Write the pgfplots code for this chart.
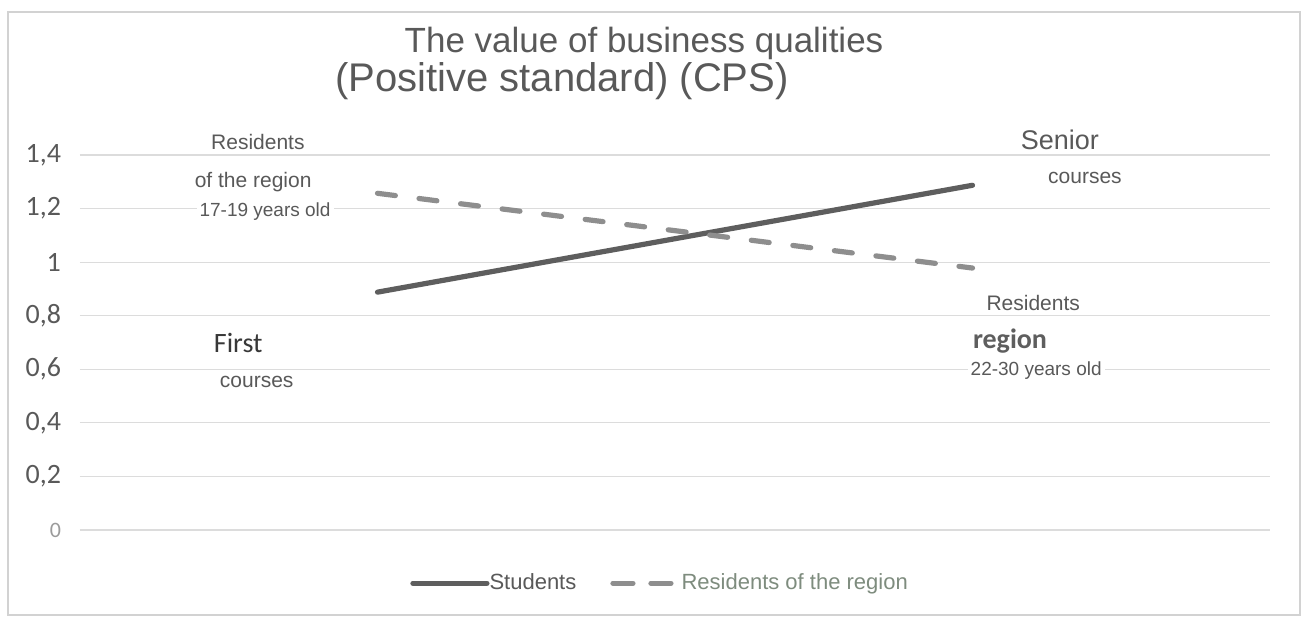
\documentclass[border=0pt]{standalone}
\usepackage{fontspec}
\setmainfont{Liberation Sans}
\newfontfamily\calib{Carlito}
\usepackage{pgfplots}
\pgfplotsset{compat=1.18}
\definecolor{darkline}{HTML}{5E5E5E}
\definecolor{lightline}{HTML}{8E8E8E}
\definecolor{txt}{HTML}{595959}
\definecolor{gridc}{HTML}{DCDCDC}
\definecolor{legg}{HTML}{7E8C7E}
\begin{document}
\begin{tikzpicture}
\useasboundingbox (-40pt,-46pt) rectangle (614.5pt,265pt);
\draw[gray!35, line width=0.6pt] (-36pt,-42.5pt) rectangle (610pt,259pt);
\begin{axis}[
  at={(0,0)}, anchor=south west,
  scale only axis, width=595pt, height=187.5pt,
  xmin=0.5, xmax=2.5, ymin=0, ymax=1.4,
  clip=false,
  axis line style={draw=none},
  ymajorgrids=true,
  grid style={gridc, line width=0.6pt},
  xtick=\empty,
  ytick={0,0.2,0.4,0.6,0.8,1,1.2,1.4},
  yticklabels={{\color{txt!60}\fontsize{11}{12}\selectfont 0\hspace{5pt}},{0,2},{0,4},{0,6},{0,8},{1},{1,2},{1,4}},
  yticklabel style={font=\calib\fontsize{14}{16}\selectfont, text=txt, anchor=east, xshift=-6pt},
  major tick length=0pt,
  legend style={at={(axis description cs:0.4866,-0.142)}, anchor=center, draw=none,
    font=\fontsize{11}{13}\selectfont, text=txt,
    nodes={inner xsep=0pt},
    /tikz/every even column/.append style={column sep=17pt}},
  legend columns=2,
]
\addplot[darkline, line width=2.6pt, line cap=round,
  legend image code/.code={\draw[darkline, line width=2.6pt, line cap=round] (0pt,0pt) -- (37pt,0pt);}] coordinates {(1,0.888) (2,1.287)};
\addlegendentry{Students}
\addplot[lightline, line width=2.6pt, line cap=round, dash pattern=on 9pt off 11.93pt,
  legend image code/.code={\draw[lightline, line width=2.6pt, line cap=round, dash pattern=on 10pt off 9pt] (0pt,0pt) -- (29pt,0pt);}] coordinates {(1,1.257) (2,0.978)};
\addlegendentry{\color{legg}\hspace{4pt}Residents of the region}

\begin{scope}[every node/.style={fill=white, inner sep=1.5pt, text=txt}]
\node[font=\fontsize{10.5}{12}\selectfont, inner xsep=6pt] at (axis cs:0.799,1.448) {Residents};
\node[font=\fontsize{10.5}{12}\selectfont] at (axis cs:0.791,1.299) {of the region};
\node[font=\fontsize{9.5}{11}\selectfont] at (axis cs:0.811,1.187) {17-19 years old};
\node[font=\calib\fontsize{14}{16}\selectfont, text=txt!120] at (axis cs:0.766,0.698) {First};
\node[font=\fontsize{10.5}{12}\selectfont] at (axis cs:0.797,0.552) {courses};
\node[font=\fontsize{13.5}{15}\selectfont, inner xsep=4pt] at (axis cs:2.147,1.456) {Senior\hspace{20pt}};
\node[font=\fontsize{10.5}{12}\selectfont] at (axis cs:2.189,1.314) {courses};
\node[font=\fontsize{10.5}{12}\selectfont] at (axis cs:2.102,0.847) {Residents};
\node[font=\calib\bfseries\fontsize{14}{16}\selectfont, text=darkline] at (axis cs:2.063,0.705) {region};
\node[font=\fontsize{9.5}{11}\selectfont] at (axis cs:2.107,0.597) {22-30 years old};
\end{scope}
\end{axis}
\node[text=txt, font=\fontsize{17.5}{19}\selectfont] at (282pt,243.5pt) {The value of business qualities};
\node[text=txt, font=\fontsize{20}{22}\selectfont] at (241pt,224.5pt) {(Positive standard) (CPS)};
\end{tikzpicture}
\end{document}
